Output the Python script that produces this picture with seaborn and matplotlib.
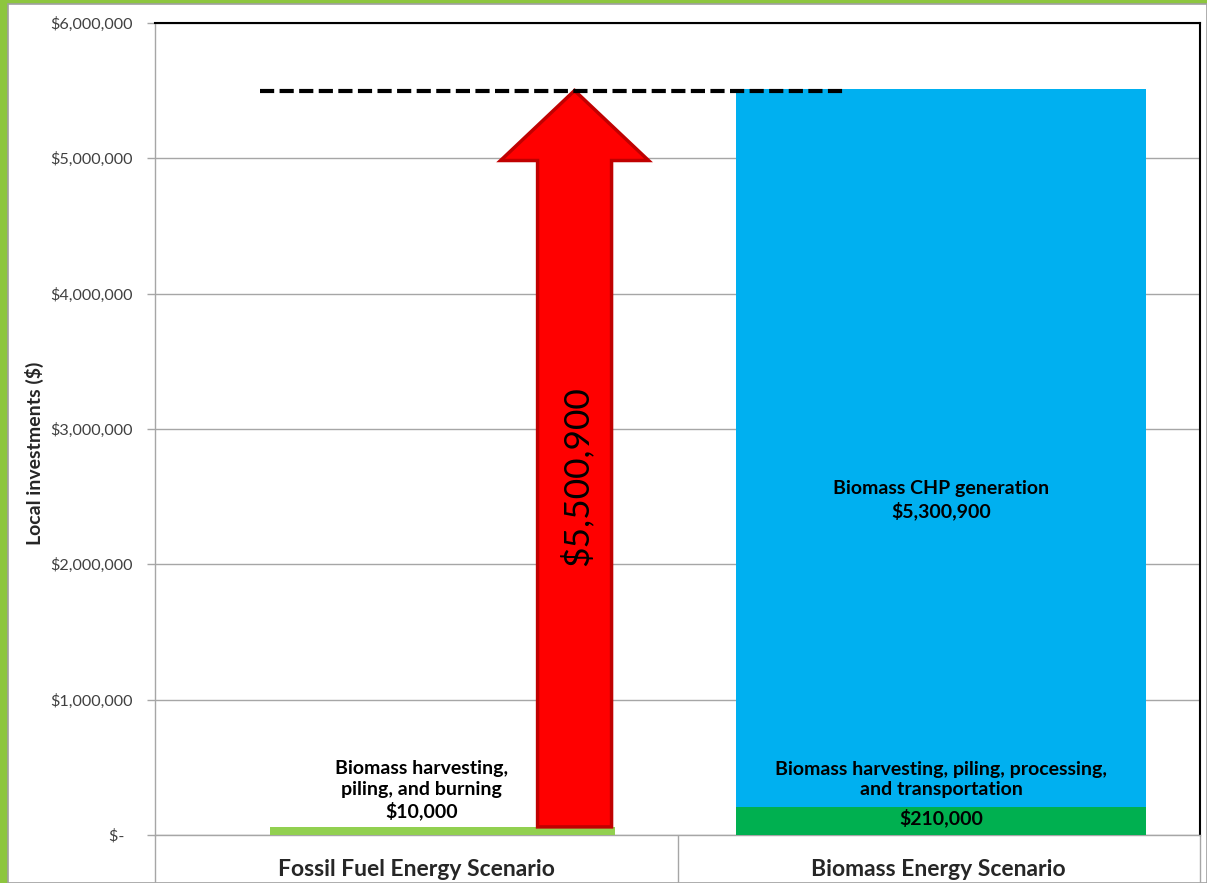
import matplotlib
matplotlib.use("Agg")
import matplotlib.pyplot as plt
import seaborn as sns
import pandas as pd
from matplotlib.patches import Rectangle, Polygon

# ---- data ----
categories = ["Fossil Fuel Energy Scenario", "Biomass Energy Scenario"]
fossil_harvest = 60000          # visual bar height (labelled $10,000)
biomass_harvest = 210000
biomass_chp = 5300900
biomass_total = biomass_harvest + biomass_chp
arrow_value = 5500900
ytick_values = [0, 1000000, 2000000, 3000000, 4000000, 5000000, 6000000]
ytick_labels = ["$-  ", "$1,000,000", "$2,000,000", "$3,000,000",
                "$4,000,000", "$5,000,000", "$6,000,000"]
fossil_label = "Biomass harvesting,\npiling, and burning\n$10,000"
chp_label = "Biomass CHP generation\n$5,300,900"
harvest_label = "Biomass harvesting, piling, processing,\nand transportation"
harvest_value_label = "$210,000"
arrow_label = "$5,500,900"
ylabel = "Local investments ($)"

sns.set_theme(style="white")
plt.rcParams['font.family'] = ['Lato', 'DejaVu Sans']

fig = plt.figure(figsize=(12.07, 8.83), dpi=100, facecolor="#8DC63F")
fig.patches.append(Rectangle((8/1207, 0), 1 - 8/1207, (883 - 4)/883,
                             transform=fig.transFigure, facecolor="white",
                             edgecolor="#A0A0A0", lw=1.2, zorder=-5))
ax = fig.add_axes([155/1207, 48/883, (1200-155)/1207, (835-23)/883])
ax.set_facecolor("white")

BLUE = "#00B0F0"
DGREEN = "#00B050"
LGREEN = "#92D050"

df = pd.DataFrame({"scenario": categories, "total": [0, biomass_total]})
sns.barplot(data=df, x="scenario", y="total", order=categories, color=BLUE,
            width=0.785, saturation=1, ax=ax, zorder=2, linewidth=0,
            edgecolor=BLUE)
for p in ax.patches:
    p.set_x(p.get_x() + 0.004)
ax.bar(1.004, biomass_harvest, width=0.785, color=DGREEN, lw=0, zorder=3)
ax.bar(-0.28, fossil_harvest, width=0.66, align="edge", color=LGREEN, lw=0,
       zorder=3)

# arrow
xc, shaft, head = 0.303, 0.0708, 0.1416
head_len = 517000
tip = arrow_value
base = fossil_harvest
pts = [(xc - shaft, base), (xc - shaft, tip - head_len), (xc - head, tip - head_len),
       (xc, tip), (xc + head, tip - head_len), (xc + shaft, tip - head_len),
       (xc + shaft, base)]
ax.add_patch(Polygon(pts, closed=True, facecolor="#FF0000", edgecolor="#C00000",
                     lw=2.5, zorder=5, joinstyle="miter"))
ax.text(0.306, 2.65e6, arrow_label, rotation=90, ha="center", va="center",
        fontsize=25.5, color="black", zorder=6)

# dashed line
ax.hlines(arrow_value, -0.30, 0.816, colors="black", linestyles=(0, (3.4, 1.3)),
          lw=3, zorder=6)

# texts
fs = 14
ax.text(0.01, 0.33e6, fossil_label, ha="center", va="center", fontsize=fs,
        fontweight="bold", linespacing=1.25, color="black", zorder=6)
ax.text(1.005, 2.476e6, chp_label, ha="center", va="center", fontsize=fs,
        fontweight="bold", linespacing=1.25, color="black", zorder=6)
ax.text(1.005, 0.41e6, harvest_label, ha="center", va="center", fontsize=fs,
        fontweight="bold", linespacing=1.25, color="black", zorder=6)
ax.text(1.005, 0.125e6, harvest_value_label, ha="center", va="center",
        fontsize=fs, fontweight="bold", color="black", zorder=6)

# y axis
ax.set_ylim(0, 6000000)
ax.set_yticks(ytick_values)
ax.set_yticklabels(ytick_labels)
ax.yaxis.grid(True, color="#A6A6A6", lw=1)
ax.set_axisbelow(True)
ax.tick_params(axis="y", which="major", left=True, length=6, width=1,
               color="#A6A6A6", labelsize=11.6, labelcolor="#404040", pad=10)
ax.set_ylabel(ylabel, fontsize=14, fontweight="bold")
ax.yaxis.set_label_coords(-111/1045, 0.47)

# x axis
ax.set_xlim(-0.5, 1.5)
ax.set_xticks([-0.5, 0.5, 1.5])
ax.set_xticklabels(["", "", ""])
ax.set_xticks([0, 1], minor=True)
ax.set_xticklabels(categories, minor=True)
ax.tick_params(axis="x", which="major", bottom=True, length=35, width=1,
               color="#A6A6A6", direction="out")
ax.tick_params(axis="x", which="minor", bottom=False, length=0, pad=17,
               labelsize=16.5)
for t in ax.xaxis.get_minorticklabels():
    t.set_fontweight("bold")
ax.set_xlabel("")

for s in ["top", "right"]:
    ax.spines[s].set_color("black")
    ax.spines[s].set_linewidth(1.5)
for s in ["left", "bottom"]:
    ax.spines[s].set_color("#A6A6A6")
    ax.spines[s].set_linewidth(1)

fig.savefig("out.png", dpi=100, facecolor=fig.get_facecolor())
